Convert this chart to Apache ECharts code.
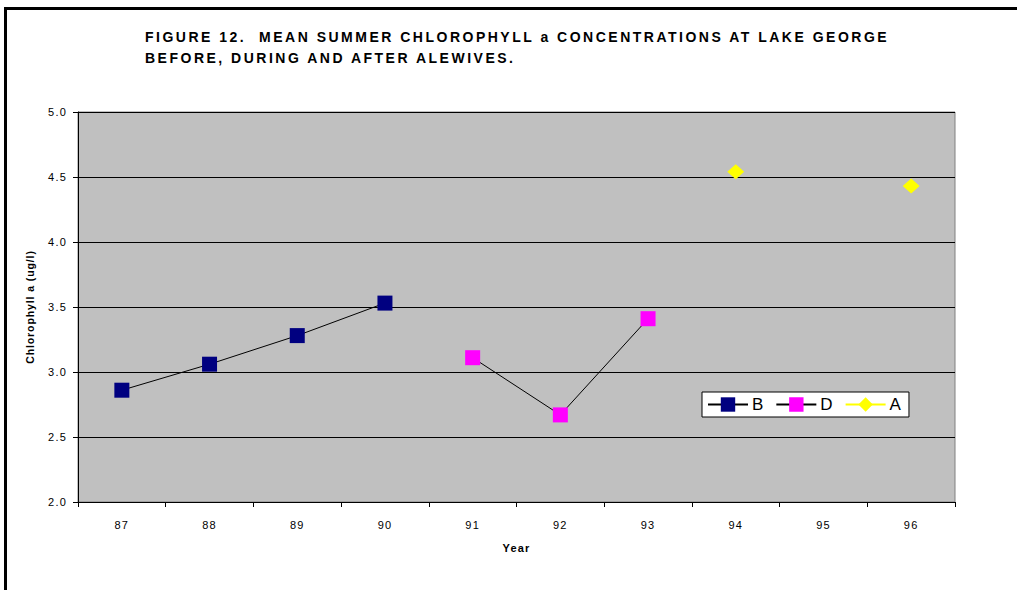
<!DOCTYPE html>
<html>
<head>
<meta charset="utf-8">
<script src="https://cdn.jsdelivr.net/npm/echarts@6/dist/echarts.min.js"></script>
<style>
html, body { margin: 0; padding: 0; background: #fff; }
#graph { width: 1017px; height: 590px; }
/* 字距 */
#graph text[style*="14px"] { letter-spacing: 2.5px; }
#graph text[style*="11px"] { letter-spacing: 1.2px; }
#graph text[style*="10.5px"] { letter-spacing: 0.9px; }
</style>
</head>
<body>
<div id="graph"></div>
<script>
// 数据
var years = ['87', '88', '89', '90', '91', '92', '93', '94', '95', '96'];
var before = [2.86, 3.06, 3.28, 3.53, null, null, null, null, null, null];
var during = [null, null, null, null, 3.11, 2.67, 3.41, null, null, null];
var after = [null, null, null, null, null, null, null, 4.54, null, 4.43];

var font = 'Liberation Sans, Arial, sans-serif';
var dom = document.getElementById('graph');
var myChart = echarts.init(dom, null, { renderer: 'svg' });
var option = {
    backgroundColor: '#fff',
    animation: false,
    title: {
        text: 'FIGURE 12.  MEAN SUMMER CHLOROPHYLL a CONCENTRATIONS AT LAKE GEORGE\nBEFORE, DURING AND AFTER ALEWIVES.',
        left: 145,
        top: 26,
        padding: 0,
        textStyle: {
            fontFamily: font,
            fontSize: 14,
            fontWeight: 'bold',
            color: '#000',
            lineHeight: 21
        }
    },
    // 外框线
    graphic: [
        { type: 'rect', shape: { x: 4, y: 7, width: 1013, height: 3 }, style: { fill: '#000' } },
        { type: 'rect', shape: { x: 4, y: 7, width: 3, height: 583 }, style: { fill: '#000' } }
    ],
    legend: {
        left: 702,
        top: 392,
        orient: 'horizontal',
        backgroundColor: '#fff',
        borderColor: '#000',
        borderWidth: 1,
        borderRadius: 0,
        padding: [4, 8, 4, 5],
        itemWidth: 40,
        itemHeight: 18,
        itemGap: 12,
        textStyle: { fontFamily: font, fontSize: 17, color: '#000', padding: [0, 0, 0, -1] },
        data: ['B', 'D', 'A']
    },
    grid: {
        left: 78,
        right: 62,
        top: 112,
        bottom: 88,
        show: true,
        backgroundColor: '#C0C0C0',
        borderColor: '#808080',
        borderWidth: 1
    },
    xAxis: {
        type: 'category',
        data: years,
        boundaryGap: true,
        name: 'Year',
        nameLocation: 'middle',
        nameGap: 40,
        nameTextStyle: { fontFamily: font, fontSize: 11, fontWeight: 'bold', color: '#000' },
        axisLine: { lineStyle: { color: '#000', width: 1 } },
        axisTick: { show: true, alignWithLabel: false, length: 5, lineStyle: { color: '#000' } },
        axisLabel: { fontFamily: font, fontSize: 11, color: '#000', margin: 17 },
        splitLine: { show: false }
    },
    yAxis: {
        type: 'value',
        min: 2,
        max: 5,
        interval: 0.5,
        name: 'Chlorophyll a (ug/l)',
        nameLocation: 'middle',
        nameGap: 43,
        nameTextStyle: { fontFamily: font, fontSize: 10.5, fontWeight: 'bold', color: '#000' },
        axisLine: { show: true, lineStyle: { color: '#000', width: 1 } },
        axisTick: { show: true, length: 5, lineStyle: { color: '#000' } },
        axisLabel: {
            fontFamily: font, fontSize: 11, color: '#000', margin: 11,
            formatter: function (v) { return v.toFixed(1); }
        },
        splitLine: { show: true, lineStyle: { color: '#000', width: 1 } }
    },
    series: [
        {
            name: 'B',
            type: 'line',
            data: before,
            symbol: 'rect',
            symbolSize: 15,
            itemStyle: { color: '#000080' },
            lineStyle: { color: '#000', width: 1 }
        },
        {
            name: 'D',
            type: 'line',
            data: during,
            symbol: 'rect',
            symbolSize: 15,
            itemStyle: { color: '#FF00FF' },
            lineStyle: { color: '#000', width: 1 }
        },
        {
            name: 'A',
            type: 'line',
            data: after,
            symbol: 'diamond',
            symbolSize: [17, 15],
            itemStyle: { color: '#FFFF00' },
            lineStyle: { color: '#FFFF00', width: 2 }
        }
    ]
};
myChart.setOption(option);
</script>
</body>
</html>
